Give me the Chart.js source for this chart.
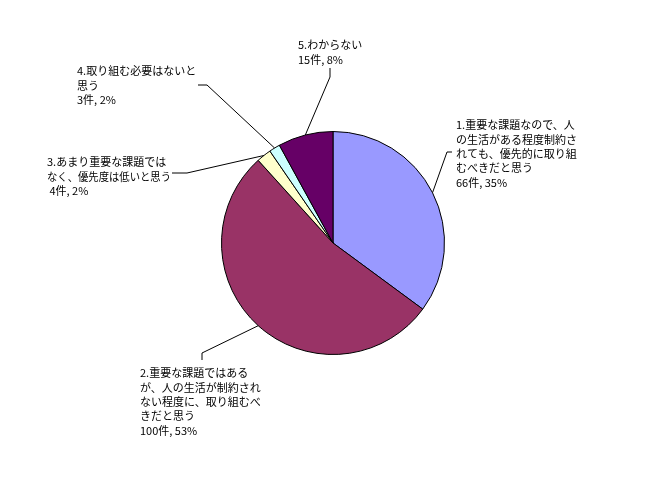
<!DOCTYPE html>
<html>
<head>
<meta charset="utf-8">
<script src="https://cdn.jsdelivr.net/npm/chart.js@4/dist/chart.umd.min.js"></script>
<style>
  body { margin: 0; background: #fff; }
  canvas { display: block; }
</style>
</head>
<body>
<canvas id="pie" width="669" height="487"></canvas>
<script>
// answers (category text, wrapped as in the original), counts and shares
const categories = [
    ['1.重要な課題なので、人', 'の生活がある程度制約さ', 'れても、優先的に取り組', 'むべきだと思う'],
    ['2.重要な課題ではある', 'が、人の生活が制約され', 'ない程度に、取り組むべ', 'きだと思う'],
    ['3.あまり重要な課題では', 'なく、優先度は低いと思う'],
    ['4.取り組む必要はないと', '思う'],
    ['5.わからない']
];
const counts = [66, 100, 4, 3, 15];
const percents = [35, 53, 2, 2, 8];
const colors = ['#9999FF', '#993366', '#FFFFCC', '#CCFFFF', '#660066'];

// where each label sits and the bend points of its leader line
const labelPos = [
    { x: 456, y: 125, lead: [[447, 152], [452, 152]], indent: '' },
    { x: 140, y: 373, lead: [[202, 353], [202, 360]], indent: '' },
    { x: 47, y: 162, lead: [[187, 173], [172, 173]], indent: ' ', maxW: 124 },
    { x: 77, y: 71, lead: [[207, 85], [198, 85]], indent: '' },
    { x: 298, y: 45, lead: [[330, 77], [330, 68]], indent: '' }
];
const lineH = 14.4;

const calloutPlugin = {
    id: 'callouts',
    afterDraw(chart) {
        const ctx = chart.ctx;
        const arcs = chart.getDatasetMeta(0).data;
        ctx.save();
        ctx.font = '11px "Noto Sans CJK JP", sans-serif';
        ctx.fillStyle = '#000';
        ctx.strokeStyle = '#000';
        ctx.lineWidth = 1;
        ctx.textBaseline = 'middle';
        ctx.textAlign = 'left';
        arcs.forEach((arc, i) => {
            const p = arc.getProps(['x', 'y', 'startAngle', 'endAngle', 'outerRadius'], true);
            const mid = (p.startAngle + p.endAngle) / 2;
            const sx = p.x + Math.cos(mid) * p.outerRadius;
            const sy = p.y + Math.sin(mid) * p.outerRadius;
            const pos = labelPos[i];
            ctx.beginPath();
            ctx.moveTo(sx, sy);
            pos.lead.forEach(pt => ctx.lineTo(pt[0], pt[1]));
            ctx.stroke();

            const lines = categories[i].concat([pos.indent + counts[i] + '件, ' + percents[i] + '%']);
            lines.forEach((t, k) => {
                if (pos.maxW) ctx.fillText(t, pos.x, pos.y + k * lineH, pos.maxW);
                else ctx.fillText(t, pos.x, pos.y + k * lineH);
            });
        });
        ctx.restore();
    }
};

new Chart(document.getElementById('pie'), {
    type: 'pie',
    data: {
        labels: categories.map(c => c.join('')),
        datasets: [{
            data: counts,
            backgroundColor: colors,
            borderColor: '#000',
            borderWidth: 1,
        }]
    },
    options: {
        responsive: false,
        animation: false,
        layout: {
            padding: { left: 221, right: 224, top: 131, bottom: 132 }
        },
        plugins: {
            legend: { display: false },
            tooltip: { enabled: false },
        }
    },
    plugins: [calloutPlugin]
});
</script>
</body>
</html>
